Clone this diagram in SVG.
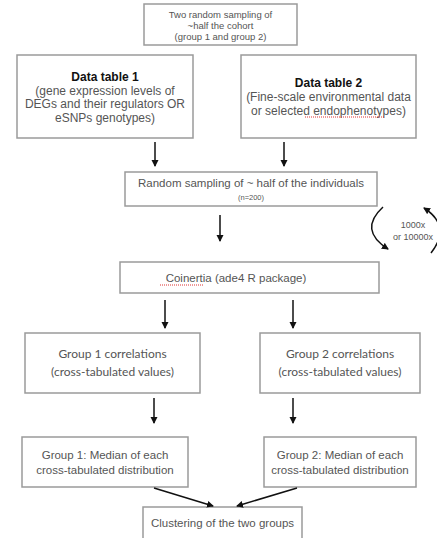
<svg xmlns="http://www.w3.org/2000/svg" width="437" height="538" viewBox="0 0 437 538">
<style>
.box{fill:#fff;stroke:#9a9a9a;stroke-width:1.5}
.t{font-family:"Liberation Sans",Arial,sans-serif;fill:#555;text-anchor:middle}
.b{font-weight:bold;fill:#111}
.l{font-family:Lato,"Liberation Sans",sans-serif;fill:#555;text-anchor:middle}
.c{stroke:#111;stroke-width:1.5;fill:none}
.sq{stroke:#d33;stroke-width:1;stroke-dasharray:1 1;fill:none}
</style>
<defs>
<marker id="ah" markerWidth="8" markerHeight="8" refX="6" refY="4" orient="auto" markerUnits="userSpaceOnUse">
<path d="M0,0.5 L7,4 L0,7.5 Z" fill="#111"/>
</marker>
</defs>
<rect width="437" height="538" fill="#fff"/>
<g id="top">
<rect class="box" x="144" y="4" width="153" height="41"/>
<text class="t" font-size="9.5" x="220.5" y="18">Two random sampling of</text>
<text class="t" font-size="9.5" x="220.5" y="29">~half the cohort</text>
<text class="t" font-size="9.5" x="220.5" y="40">(group 1 and group 2)</text>
</g>
<g id="dt1">
<rect class="box" x="17" y="55" width="176" height="83"/>
<text class="t b" font-size="12" x="105" y="81">Data table 1</text>
<text class="t" font-size="12" x="105" y="94.5">(gene expression levels of</text>
<text class="t" font-size="12" x="105" y="108">DEGs and their regulators OR</text>
<text class="t" font-size="12" x="105" y="121.5">eSNPs genotypes)</text>
</g>
<g id="dt2">
<rect class="box" x="241" y="55" width="175" height="83"/>
<text class="t b" font-size="12" x="328.5" y="87">Data table 2</text>
<text class="t" font-size="12" x="328.5" y="101">(Fine-scale environmental data</text>
<text class="t" font-size="12" x="328.5" y="114.5">or selected endophenotypes)</text>
<path class="sq" d="M305,117 L385,117"/>
</g>
<g id="rs">
<rect class="box" x="125" y="172" width="252" height="34"/>
<text class="t" font-size="11.5" x="251" y="187">Random sampling of ~ half of the individuals</text>
<text class="t" font-size="7.5" x="251" y="200">(n=200)</text>
</g>
<g id="loop">
<text class="t" font-size="9" x="413" y="228">1000x</text>
<text class="t" font-size="9" x="413" y="240">or 10000x</text>
</g>
<g id="coin">
<rect class="box" x="120" y="262" width="259" height="31"/>
<text class="t" font-size="11.5" x="236" y="282">Coinertia (ade4 R package)</text>
<path class="sq" d="M160,285 L203,285"/>
</g>
<g id="g1c">
<rect class="box" x="25" y="333" width="175" height="60"/>
<text class="l" font-size="12" x="112.5" y="358">Group 1 correlations</text>
<text class="l" font-size="12" x="112.5" y="376">(cross-tabulated values)</text>
</g>
<g id="g2c">
<rect class="box" x="260" y="333" width="160" height="60"/>
<text class="l" font-size="12" x="340" y="358">Group 2 correlations</text>
<text class="l" font-size="12" x="340" y="376">(cross-tabulated values)</text>
</g>
<g id="g1m">
<rect class="box" x="22" y="437" width="166" height="50"/>
<text class="t" font-size="11.5" x="105" y="459">Group 1: Median of each</text>
<text class="t" font-size="11.5" x="105" y="474">cross-tabulated distribution</text>
</g>
<g id="g2m">
<rect class="box" x="264" y="437" width="152" height="50"/>
<text class="t" font-size="11.5" x="340" y="459">Group 2: Median of each</text>
<text class="t" font-size="11.5" x="340" y="474">cross-tabulated distribution</text>
</g>
<g id="clus">
<rect class="box" x="143" y="507" width="159" height="40"/>
<text class="t" font-size="11.5" x="222.5" y="527">Clustering of the two groups</text>
</g>
<g id="connectors">
<path class="c" marker-end="url(#ah)" d="M155,142 L155,166"/>
<path class="c" marker-end="url(#ah)" d="M284,142 L284,166"/>
<path class="c" marker-end="url(#ah)" d="M220,215 L220,241"/>
<path class="c" marker-end="url(#ah)" d="M165,300 L165,328"/>
<path class="c" marker-end="url(#ah)" d="M293,300 L293,328"/>
<path class="c" marker-end="url(#ah)" d="M154,398 L154,423"/>
<path class="c" marker-end="url(#ah)" d="M293,398 L293,423"/>
<path class="c" marker-end="url(#ah)" d="M154,488 L213,506"/>
<path class="c" marker-end="url(#ah)" d="M297,488 L237,506"/>
<path class="c" marker-end="url(#ah)" d="M383,207 Q358,230 388,249"/>
<path class="c" marker-end="url(#ah)" d="M431,253 Q452,226 424,208"/>
</g>
</svg>
